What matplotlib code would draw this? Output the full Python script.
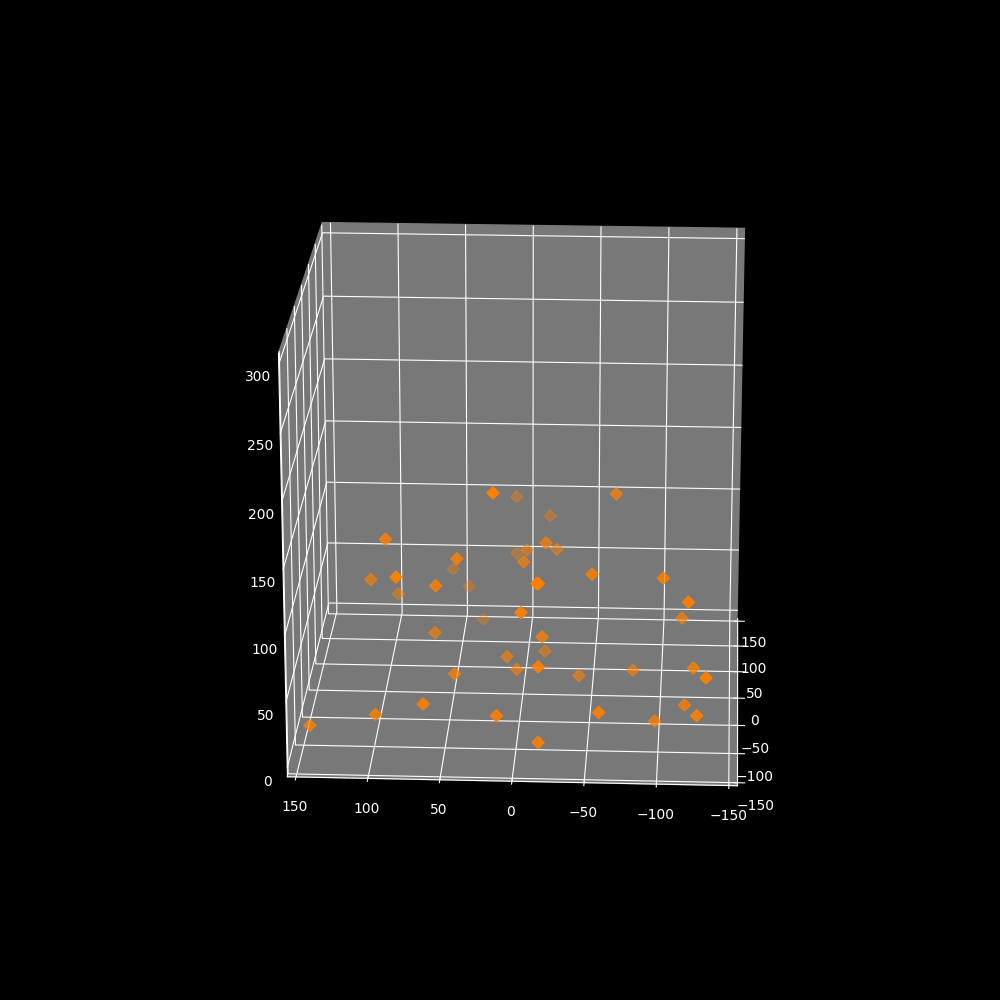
import matplotlib
matplotlib.use("Agg")
import matplotlib.pyplot as plt
import numpy as np

# values, depth estimated from the marker shading
xs = [14, 11, 93, 43, 59, 81, 109, 58, 47, 95, 11, 0, -1, -16, -17, -5, 36, 63, -67, -14, -17, -22, -52, -102, -17, -14, 11, 4, -17, 45, -41, -80, 63, 12, -59, -17, 147, 99, -120, -115, -124, -133, -118, -127, -97]
ys = [-130, 130, -70, -70, 130, -130, -10, -70, 130, 60, 130, 60, -10, -130, -130, -130, 125, -10, -10, 130, -10, 60, -70, -70, -70, 45, -10, -10, -130, -70, -10, -10, -130, -130, -130, -130, -85, -100, -100, -10, -70, -130, -70, -130, -70]
zs = [200, 100, 141, 127, 40, 136, 86, 106, 26, 47, 54, 84, 102, 133, 133, 111, 1, 45, 156, 85, 117, 85, 117, 115, 68, 9, 27, 17, 70, 38, 13, 18, 40, 32, 36, 12, 2, 18, 109, 60, 46, 64, 17, 35, 4]

xy_ticks = [-150, -100, -50, 0, 50, 100, 150]
z_ticks = [0, 50, 100, 150, 200, 250, 300]

plt.style.use("dark_background")

fig = plt.figure(figsize=(10, 10), dpi=100)
ax = fig.add_subplot(projection="3d")
ax.scatter(xs, ys, zs, c="#ff8000", marker="D", s=38)

ax.set_xlim(-156, 156)
ax.set_ylim(155, -155)
ax.set_zlim(-7, 308)
ax.set_box_aspect((1, 1, 0.99), zoom=0.95)
ax.set_xticks(xy_ticks)
ax.set_yticks(xy_ticks)
ax.set_zticks(z_ticks)
ax.view_init(elev=20, azim=92.8)

ax.zaxis.set_ticks_position("lower")
ax.zaxis._axinfo["tick"]["outward_factor"] = 0
ax.zaxis._axinfo["tick"]["inward_factor"] = 0

for axis in [ax.xaxis, ax.yaxis, ax.zaxis]:
    axis.set_pane_color((0.47, 0.47, 0.47, 1))

fig.savefig("out.png")
